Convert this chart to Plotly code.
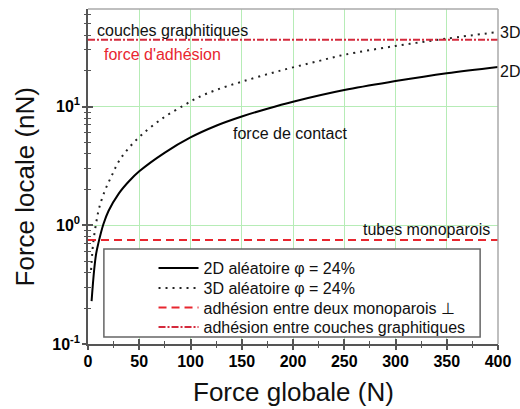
import plotly.graph_objects as go

# ---------------- data ----------------
x_2d = [3.5, 6, 8, 10, 15, 20, 30, 40, 50, 75, 100, 125, 150, 175, 200, 250, 300, 350, 400]
y_2d = [0.23, 0.42, 0.58, 0.70, 1.02, 1.32, 1.85, 2.35, 2.85, 4.1, 5.5, 6.9, 8.25, 9.6, 11.0, 13.8, 16.4, 19.1, 21.6]

x_3d = [3, 5, 8, 11, 17, 23, 30, 40, 53, 73, 94, 108, 125, 150, 186, 225, 250, 300, 350, 400]
y_3d = [0.42, 0.70, 1.05, 1.41, 2.01, 2.60, 3.45, 4.5, 5.85, 8.0, 10.3, 12.0, 13.8, 16.2, 19.9, 24.2, 27.3, 32.4, 37.4, 42.5]

x_adh = [0, 400]
y_adh_mono = [0.75, 0.75]
y_adh_graph = [36.5, 36.5]

names = ["2D aléatoire φ = 24%", "3D aléatoire φ = 24%",
         "adhésion entre deux monoparois ⊥", "adhésion entre couches graphitiques"]

x_ticks = [0, 50, 100, 150, 200, 250, 300, 350, 400]
y_ticks = [0.1, 1, 10]
y_ticktext = ["10<sup>-1</sup>", "10<sup>0</sup>", "10<sup>1</sup>"]
y_minor = [0.2, 0.3, 0.4, 0.5, 0.6, 0.7, 0.8, 0.9, 2, 3, 4, 5, 6, 7, 8, 9, 20, 30, 40, 50, 60]

# ---------------- style ----------------
W, H = 520, 409
L, R, T, B = 88, 19, 9, 65
pw, ph = W - L - R, H - T - B
def px(x): return (x - L) / pw
def py(y): return (H - B - y) / ph

FONT = "Liberation Sans, Arial, sans-serif"
RED = "#e8262f"
AXC = "#555555"
GRID = "#b6ecb6"

fig = go.Figure()
fig.add_trace(go.Scatter(x=x_2d, y=y_2d, mode="lines", name=names[0], legend="legend",
                         line=dict(color="black", width=2), line_shape="spline"))
fig.add_trace(go.Scatter(x=x_3d, y=y_3d, mode="lines", name=names[1], legend="legend2",
                         line=dict(color="#222222", width=2, dash="2px,5px"), line_shape="spline"))
fig.add_trace(go.Scatter(x=x_adh, y=y_adh_mono, mode="lines", name=names[2], legend="legend3",
                         line=dict(color=RED, width=2, dash="8px,5px")))
fig.add_trace(go.Scatter(x=x_adh, y=y_adh_graph, mode="lines", name=names[3], legend="legend4",
                         line=dict(color="#d42a3c", width=2, dash="7px,2px,2px,2px")))
# dummy trace to carry the overlay axes (outside halves of the crossing ticks)
fig.add_trace(go.Scatter(x=[None], y=[None], xaxis="x2", yaxis="y2", showlegend=False,
                         hoverinfo="skip"))

def leg(row_y):
    return dict(x=px(154), y=py(row_y), xanchor="left", yanchor="middle",
                bgcolor="rgba(0,0,0,0)", borderwidth=0,
                font=dict(family=FONT, size=16, color="#111111"), itemwidth=40)

fig.update_layout(
    width=W, height=H,
    margin=dict(l=L, r=R, t=T, b=B),
    paper_bgcolor="white", plot_bgcolor="white",
    font=dict(family=FONT, color="black"),
    showlegend=True,
    legend=leg(268), legend2=leg(288), legend3=leg(307.5), legend4=leg(327),
    xaxis=dict(range=[0, 400], tickvals=x_ticks, showgrid=True, gridcolor=GRID, gridwidth=1,
               zeroline=False, showline=True, linecolor=AXC, linewidth=1.5,
               ticks="inside", ticklen=5, tickwidth=1.5, tickcolor=AXC,
               ticklabelstandoff=2,
               tickfont=dict(family=FONT, size=16, weight="bold"),
               minor=dict(dtick=25, tick0=0, ticks="inside", ticklen=3, tickwidth=1.2,
                          tickcolor=AXC, showgrid=False)),
    yaxis=dict(type="log", range=[-1, 1.822], tickvals=y_ticks, ticktext=y_ticktext,
               showgrid=True, gridcolor=GRID, gridwidth=1, zeroline=False,
               showline=True, linecolor=AXC, linewidth=1.5,
               ticks="inside", ticklen=5, tickwidth=1.5, tickcolor=AXC,
               ticklabelstandoff=3,
               tickfont=dict(family=FONT, size=16, weight="bold"),
               minor=dict(tickvals=y_minor, ticks="inside", ticklen=3, tickwidth=1.2,
                          tickcolor=AXC, showgrid=False)),
    xaxis2=dict(overlaying="x", anchor="y", side="bottom", range=[0, 400], tickvals=x_ticks,
                showticklabels=False, showgrid=False, zeroline=False, showline=False,
                ticks="outside", ticklen=5, tickwidth=1.5, tickcolor=AXC,
                minor=dict(dtick=25, tick0=0, ticks="outside", ticklen=3, tickwidth=1.2,
                           tickcolor=AXC, showgrid=False)),
    yaxis2=dict(overlaying="y", anchor="x", side="left", type="log", range=[-1, 1.822],
                tickvals=y_ticks, showticklabels=False, showgrid=False, zeroline=False,
                showline=False, ticks="outside", ticklen=5, tickwidth=1.5, tickcolor=AXC,
                minor=dict(tickvals=y_minor, ticks="outside", ticklen=3, tickwidth=1.2,
                           tickcolor=AXC, showgrid=False)),
)

# top and right border, legend frame
fig.add_shape(type="line", xref="paper", yref="paper", x0=0, x1=1, y0=1, y1=1,
              line=dict(color="#aaaaaa", width=1.5))
fig.add_shape(type="line", xref="paper", yref="paper", x0=1, x1=1, y0=0, y1=1,
              line=dict(color="#aaaaaa", width=1.5))
fig.add_shape(type="rect", xref="paper", yref="paper",
              x0=px(104), x1=px(483), y0=py(337), y1=py(249),
              fillcolor="white", line=dict(color="#666666", width=1.5), layer="above")

def ann(text, x, y, size=16, color="#111111", **kw):
    fig.add_annotation(text=text, x=x, y=y, xref="paper", yref="paper", showarrow=False,
                       xanchor=kw.pop("xanchor", "left"), yanchor=kw.pop("yanchor", "middle"),
                       font=dict(family=FONT, size=size, color=color), **kw)

ann("couches graphitiques", px(95), py(30.5))
ann("force d'adhésion", px(102), py(54), color=RED)
ann("force de contact", px(232), py(133))
ann("tubes monoparois", px(363), py(229))
ann("3D", px(501), py(33))
ann("2D", px(501), py(71.5))
ann("Force globale (N)", 0.5, py(392), size=26, xanchor="center")
ann("Force locale (nN)", px(25), py(187), size=26, xanchor="center", textangle=-90)

fig.write_html("out.html", config={"displayModeBar": False},
               post_script="document.body.style.margin='0';document.body.style.overflow='hidden';")
